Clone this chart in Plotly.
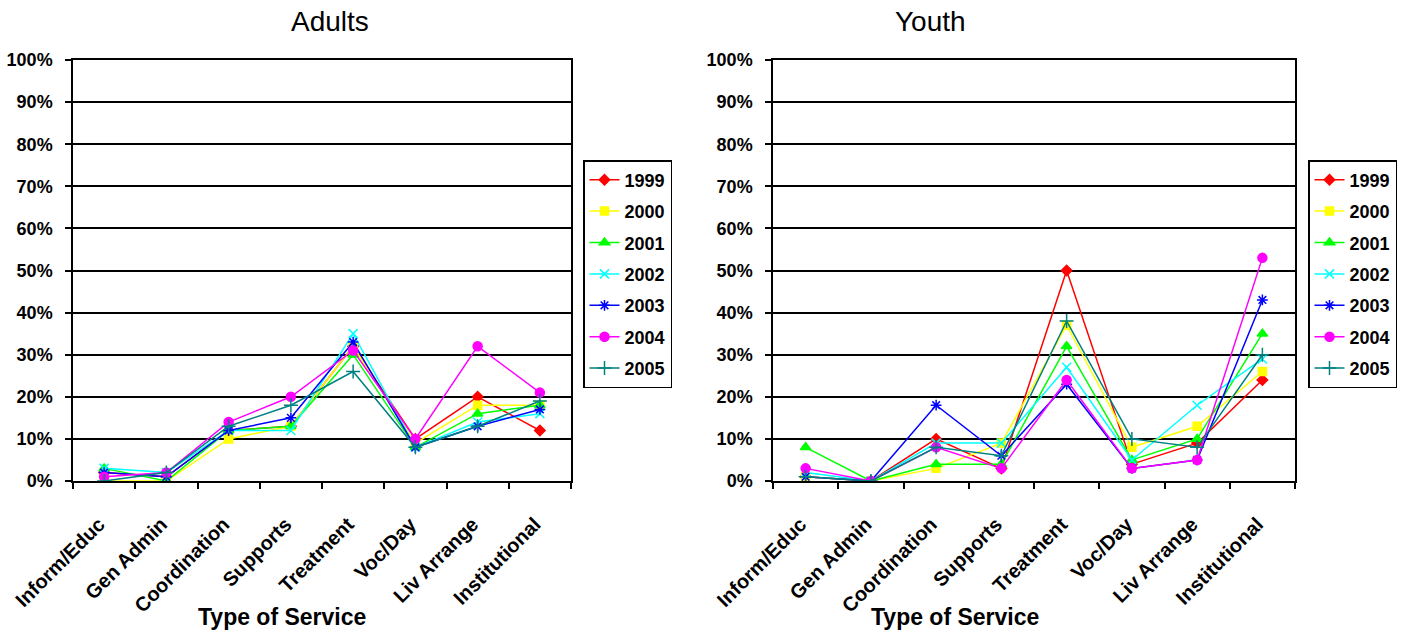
import plotly.graph_objects as go

# Service categories on the x axis
categories = ["Inform/Educ", "Gen Admin", "Coordination", "Supports",
              "Treatment", "Voc/Day", "Liv Arrange", "Institutional"]
years = ["1999", "2000", "2001", "2002", "2003", "2004", "2005"]

# Share of spending per service type (fractions), adults
adults_1999 = [0.02, 0.01, 0.12, 0.13, 0.32, 0.10, 0.20, 0.12]
adults_2000 = [0.00, 0.00, 0.10, 0.13, 0.32, 0.09, 0.18, 0.18]
adults_2001 = [0.03, 0.00, 0.12, 0.13, 0.30, 0.08, 0.16, 0.18]
adults_2002 = [0.03, 0.02, 0.12, 0.12, 0.35, 0.08, 0.14, 0.16]
adults_2003 = [0.02, 0.01, 0.12, 0.15, 0.33, 0.08, 0.13, 0.17]
adults_2004 = [0.01, 0.02, 0.14, 0.20, 0.31, 0.10, 0.32, 0.21]
adults_2005 = [0.00, 0.02, 0.13, 0.18, 0.26, 0.08, 0.13, 0.19]

# Share of spending per service type (fractions), youth
youth_1999 = [0.01, 0.00, 0.10, 0.03, 0.50, 0.04, 0.09, 0.24]
youth_2000 = [0.01, 0.00, 0.03, 0.09, 0.37, 0.08, 0.13, 0.26]
youth_2001 = [0.08, 0.00, 0.04, 0.04, 0.32, 0.05, 0.10, 0.35]
youth_2002 = [0.02, 0.00, 0.09, 0.09, 0.27, 0.05, 0.18, 0.29]
youth_2003 = [0.01, 0.00, 0.18, 0.06, 0.23, 0.03, 0.05, 0.43]
youth_2004 = [0.03, 0.00, 0.08, 0.03, 0.24, 0.03, 0.05, 0.53]
youth_2005 = [0.01, 0.00, 0.08, 0.06, 0.38, 0.10, 0.08, 0.30]

y_ticks = [i / 10 for i in range(11)]

adults = [adults_1999, adults_2000, adults_2001, adults_2002,
          adults_2003, adults_2004, adults_2005]
youth = [youth_1999, youth_2000, youth_2001, youth_2002,
         youth_2003, youth_2004, youth_2005]

colors = ["#FF0000", "#FFFF00", "#00FF00", "#00FFFF", "#0000FF", "#FF00FF", "#008080"]
symbols = ["diamond", "square", "triangle-up", "x-thin-open",
           "asterisk-open", "circle", "cross-thin-open"]
sizes = [8, 8, 9, 9, 9, 9, 10]

FONT = "Arial, 'Liberation Sans', sans-serif"
W, H = 1411, 633

fig = go.Figure()

for series_set, xa, ya, leg in [(adults, "x", "y", "legend"), (youth, "x2", "y2", "legend2")]:
    for i, vals in enumerate(series_set):
        fig.add_trace(go.Scatter(
            x=categories, y=vals, name=years[i], mode="lines+markers",
            xaxis=xa, yaxis=ya, legend=leg, legendgroup=leg + years[i],
            line=dict(color=colors[i], width=1.5),
            marker=dict(symbol=symbols[i], size=sizes[i], color=colors[i],
                        line=dict(color=colors[i], width=1.5)),
        ))

def px_x(p):
    return p / W

def px_y(p):
    return 1 - p / H

xaxis_common = dict(
    type="category", range=[-0.5, 7.5], tickson="boundaries",
    ticks="outside", ticklen=6, tickwidth=1.5, tickcolor="black",
    showline=True, linecolor="black", linewidth=1.5, mirror=True,
    showgrid=False, tickangle=-45, automargin=False,
    tickfont=dict(family=FONT, size=20, color="black", weight="bold"),
    ticklabelstandoff=22, ticklabelshift=-5, fixedrange=True,
)
yaxis_common = dict(
    range=[0, 1], tickvals=y_ticks, tickformat=".0%",
    ticks="outside", ticklen=6, tickwidth=1.5, tickcolor="black",
    showline=True, linecolor="black", linewidth=1.5, mirror=True,
    showgrid=True, gridcolor="black", gridwidth=1.5, zeroline=False,
    tickfont=dict(family=FONT, size=18, color="black", weight="bold"),
    ticklabelstandoff=9, fixedrange=True, automargin=False,
)

legend_common = dict(
    bgcolor="white", bordercolor="black", borderwidth=1.5,
    font=dict(family=FONT, size=18, color="black", weight="bold"),
    xanchor="left", yanchor="top", tracegroupgap=5, itemwidth=30,
)

fig.update_layout(
    width=W, height=H, autosize=False,
    margin=dict(l=0, r=0, t=0, b=0),
    paper_bgcolor="white", plot_bgcolor="white",
    xaxis=dict(xaxis_common, domain=[px_x(73), px_x(571)], anchor="y"),
    yaxis=dict(yaxis_common, domain=[px_y(481), px_y(60)], anchor="x"),
    xaxis2=dict(xaxis_common, domain=[px_x(773), px_x(1295)], anchor="y2"),
    yaxis2=dict(yaxis_common, domain=[px_y(481), px_y(60)], anchor="x2"),
    legend=dict(legend_common, x=px_x(583), y=px_y(160)),
    legend2=dict(legend_common, x=px_x(1308), y=px_y(160)),
    showlegend=True,
)

# Chart titles and x-axis titles
for text, cx in [("Adults", 330), ("Youth", 930)]:
    fig.add_annotation(text=text, x=px_x(cx), y=px_y(22), xref="paper", yref="paper",
                       showarrow=False, xanchor="center", yanchor="middle",
                       font=dict(family=FONT, size=28, color="black"))
for cx in [282, 955]:
    fig.add_annotation(text="Type of Service", x=px_x(cx), y=px_y(617),
                       xref="paper", yref="paper", showarrow=False,
                       xanchor="center", yanchor="middle",
                       font=dict(family=FONT, size=23, color="black", weight="bold"))

fig.write_html("out.html", config={"displayModeBar": False})
